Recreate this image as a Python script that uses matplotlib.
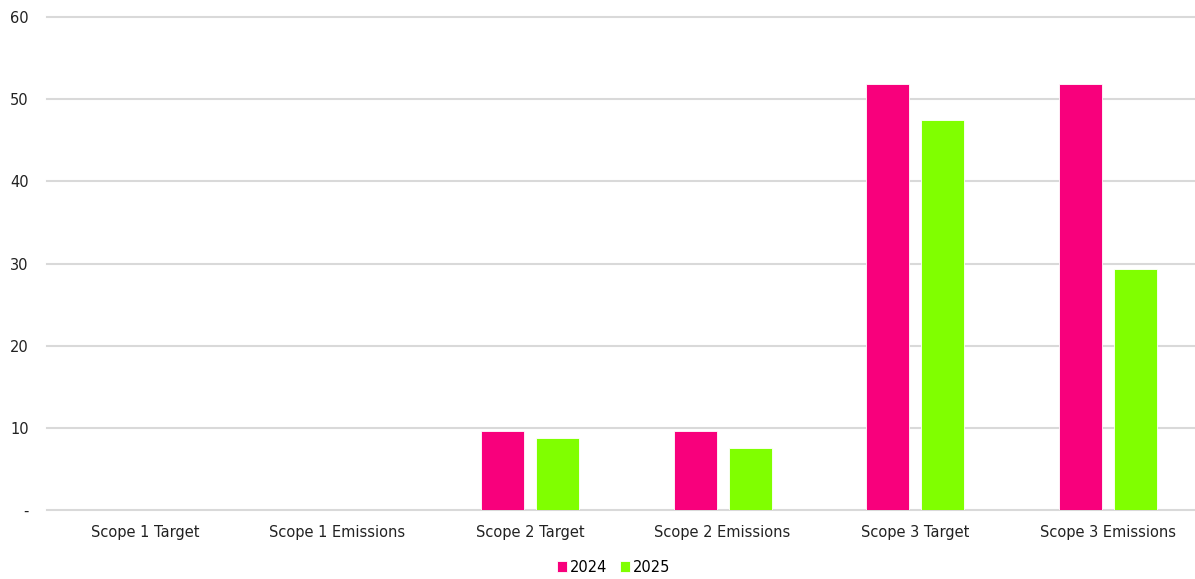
import matplotlib
matplotlib.use("Agg")
import matplotlib.pyplot as plt
import numpy as np

categories = ["Scope 1 Target", "Scope 1 Emissions", "Scope 2 Target",
              "Scope 2 Emissions", "Scope 3 Target", "Scope 3 Emissions"]
series_names = ["2024", "2025"]
values_2024 = [0, 0, 9.6, 9.6, 51.8, 51.8]
values_2025 = [0, 0, 8.8, 7.6, 47.5, 29.3]
yticks = [0, 10, 20, 30, 40, 50, 60]
ytick_labels = ["-", "10", "20", "30", "40", "50", "60"]
colors = ["#F8007C", "#80FF00"]

plt.rcParams['font.family'] = ['DejaVu Sans']
fig = plt.figure(figsize=(11.95, 5.79), dpi=100)
ax = fig.add_axes([0.0393, 0.1192, 0.9607, 0.8514])

x = np.arange(len(categories))
w = 0.223
off = 0.143
for vals, name, c, o in [(values_2024, series_names[0], colors[0], -off),
                         (values_2025, series_names[1], colors[1], off)]:
    ax.bar(x + o, vals, width=w, color=c, edgecolor="white", linewidth=0.6,
           label=name, zorder=3)

ax.set_xlim(-0.508, 5.453)
ax.set_ylim(0, 60)
ax.set_yticks(yticks)
ax.set_yticklabels(ytick_labels, fontsize=10.5, color="#222222")
ax.set_xticks(x)
ax.set_xticklabels(categories, fontsize=10.5, color="#222222")
ax.tick_params(axis="both", length=0)
ax.tick_params(axis="y", pad=13)
ax.tick_params(axis="x", pad=11)
ax.yaxis.grid(True, color="#D9D9D9", linewidth=1.5, zorder=0)
for gl in ax.yaxis.get_gridlines():
    gl.set_clip_on(False)
ax.set_axisbelow(True)
for s in ax.spines.values():
    s.set_visible(False)

leg = fig.legend(loc="center", bbox_to_anchor=(0.5135, 0.0207), ncol=2,
                 frameon=False, fontsize=10.5, handlelength=0.7, handleheight=0.7,
                 handletextpad=0.2, columnspacing=0.9)

fig.savefig("out.png", dpi=100)
